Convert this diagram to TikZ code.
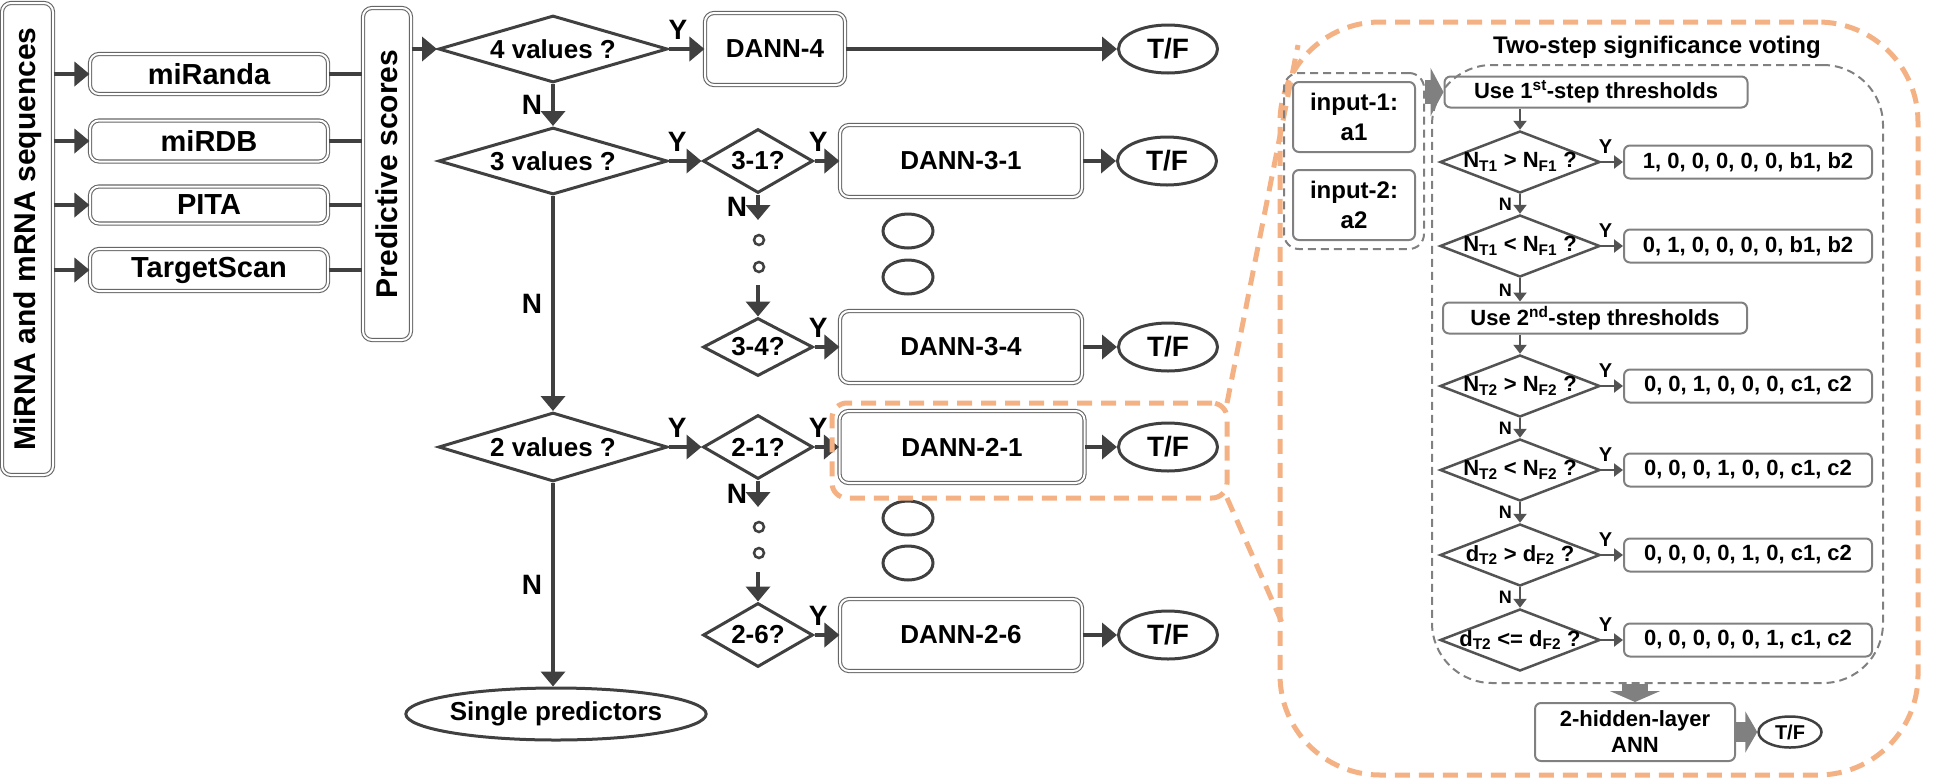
\documentclass[tikz,border=0pt]{standalone}
\usepackage{fontspec}
\setmainfont{Liberation Sans}
\usetikzlibrary{%
  arrows.meta,%
  shapes.geometric,%
  fit%
}
\definecolor{ink}{HTML}{404040}
\definecolor{panelgray}{HTML}{808080}
\definecolor{peach}{HTML}{F4B183}
\tikzset{>={Triangle[length=15pt,width=24pt]}}
\tikzset{%
  tool/.style = {draw=black!60, double, double distance=2pt, line width=1.1pt,
    rounded corners=9pt, inner sep=0pt, font=\fontsize{29}{32}\selectfont\bfseries},
  dann/.style = {tool, minimum width=242pt, minimum height=72pt,
    font=\fontsize{26}{28}\selectfont\bfseries},
  ask/.style = {diamond, draw=ink, line width=3pt, inner sep=0pt,
    font=\fontsize{26}{28}\selectfont\bfseries},
  askbig/.style = {ask, aspect=3.4, minimum width=229pt, minimum height=67pt},
  asksmall/.style = {ask, aspect=1.7, minimum width=110pt, minimum height=64pt},
  tf/.style = {ellipse, draw=ink, line width=3pt, inner sep=0pt,
    minimum width=99pt, minimum height=48pt, font=\fontsize{28}{30}\selectfont\bfseries},
  more/.style = {ellipse, draw=ink, line width=3pt, minimum width=50pt, minimum height=34pt},
  ring/.style = {circle, draw=ink, line width=2.5pt, minimum size=10pt, inner sep=0pt},
  flow/.style = {draw=ink, line width=4pt, ->},
  yn/.style = {inner sep=1pt, font=\fontsize{28}{30}\selectfont\bfseries},
  zoomed/.style = {draw=peach, line width=5pt, dash pattern=on 15pt off 9pt,
    rounded corners=15pt, outer sep=0pt, inner sep=0pt},
  group/.style = {draw=panelgray, line width=2pt, dash pattern=on 8pt off 5pt,
    rounded corners=15pt},
  pbox/.style = {draw=panelgray, line width=2pt, rounded corners=6pt, inner sep=0pt,
    font=\fontsize{22}{26}\selectfont\bfseries},
  pask/.style = {diamond, draw=ink!90, line width=2.5pt, inner sep=0pt, aspect=2.6,
    minimum width=160pt, minimum height=62pt, font=\fontsize{22}{24}\selectfont\bfseries},
  pres/.style = {pbox, minimum width=248pt, minimum height=33pt},
  pflow/.style = {draw=ink!90, line width=2.5pt, -{Triangle[length=9pt,width=13pt]}},
  pyn/.style = {inner sep=1pt, font=\fontsize{20}{22}\selectfont\bfseries},
  pn/.style = {inner sep=1pt, font=\fontsize{18}{20}\selectfont\bfseries},
  fat/.style = {draw=panelgray, line width=24pt, -{Triangle[length=13pt,width=48pt]}}
}

\begin{document}
\begin{tikzpicture}[x=1pt,y=-1pt]
  \useasboundingbox (0,0) rectangle (1946,780);

  % sequences, predictors and scores
  \node[tool, minimum width=51pt, minimum height=472pt,
    font=\fontsize{30}{32}\selectfont\bfseries] (seqs) at (27.5,239)
    {\rotatebox{90}{MiRNA and mRNA sequences}};
  \node[tool, minimum width=238pt, minimum height=40pt] (miranda) at (209,74) {miRanda};
  \node[tool, minimum width=238pt, minimum height=41pt] (mirdb) at (209,141) {miRDB};
  \node[tool, minimum width=238pt, minimum height=37pt] (pita) at (209,205) {PITA};
  \node[tool, minimum width=238pt, minimum height=42pt] (targetscan) at (209,270) {TargetScan};
  \node[tool, minimum width=48pt, minimum height=332pt,
    font=\fontsize{30}{32}\selectfont\bfseries] (scores) at (387,174)
    {\rotatebox{90}{Predictive scores}};
  \foreach \p in {miranda,mirdb,pita,targetscan}{
    \draw[flow] (seqs.east |- \p.west) -- (\p.west);
    \draw[flow,-] (\p.east) -- (scores.west |- \p.east);
  }

  % four values
  \node[askbig] (v4) at (553,49) {4 values ?};
  \node[dann, minimum width=140pt] (dann4) at (775,49) {DANN-4};
  \node[tf] (tf4) at (1168,49) {T/F};
  \draw[flow] (scores.east |- v4.west) -- (v4.west);
  \draw[flow] (v4.east) -- node[yn, pos=0.25, above=7pt] (y4) {Y} (dann4.west);
  \draw[flow] (dann4.east) -- (tf4.west);

  % three values
  \node[askbig] (v3) at (553,161) {3 values ?};
  \draw[flow] (v4.south) -- node[yn, left=8pt] (n4) {N} (v3.north);
  \node[asksmall] (q31) at (758,161) {3-1?};
  \node[dann] (dann31) at (961,161) {DANN-3-1};
  \node[tf] (tf31) at (1167,161) {T/F};
  \draw[flow] (v3.east) -- node[yn, pos=0.25, above=7pt] (y3) {Y} (q31.west);
  \draw[flow] (q31.east) -- node[yn, pos=0.15, above=7pt] (y31) {Y} (dann31.west);
  \draw[flow] (dann31.east) -- (tf31.west);
  \coordinate (gap31) at (758,220);
  \draw[flow] (q31.south) -- node[yn, left=8pt] (n31) {N} (gap31);
  \node[ring] (ring31) at (759,240) {};
  \node[ring] (ring32) at (759,267) {};
  \node[more] (more31) at (908,231) {};
  \node[more] (more32) at (908,277) {};
  \coordinate (gap34) at (758,285);
  \node[asksmall, minimum height=58pt] (q34) at (758,347) {3-4?};
  \node[dann] (dann34) at (961,347) {DANN-3-4};
  \node[tf] (tf34) at (1168,347) {T/F};
  \draw[flow] (gap34) -- (q34.north);
  \draw[flow] (q34.east) -- node[yn, pos=0.15, above=7pt] (y34) {Y} (dann34.west);
  \draw[flow] (dann34.east) -- (tf34.west);

  % two values
  \node[askbig, minimum height=69pt] (v2) at (553,447) {2 values ?};
  \draw[flow] (v3.south) -- node[yn, left=8pt] (n3) {N} (v2.north);
  \node[asksmall] (q21) at (758,447) {2-1?};
  \node[dann, minimum width=245pt] (dann21) at (962,447) {DANN-2-1};
  \node[tf] (tf21) at (1168,447) {T/F};
  \draw[flow] (v2.east) -- node[yn, pos=0.25, above=7pt] (y2) {Y} (q21.west);
  \draw[flow] (q21.east) -- node[yn, pos=0.15, above=7pt] (y21) {Y} (dann21.west);
  \draw[flow] (dann21.east) -- (tf21.west);
  \coordinate (gap21) at (758,507);
  \draw[flow] (q21.south) -- node[yn, left=8pt] (n21) {N} (gap21);
  \node[ring] (ring21) at (759,527) {};
  \node[ring] (ring22) at (759,553) {};
  \node[more] (more21) at (908,518) {};
  \node[more] (more22) at (908,563) {};
  \coordinate (gap26) at (758,572);
  \node[asksmall] (q26) at (758,635) {2-6?};
  \node[dann] (dann26) at (961,635) {DANN-2-6};
  \node[tf] (tf26) at (1168,635) {T/F};
  \draw[flow] (gap26) -- (q26.north);
  \draw[flow] (q26.east) -- node[yn, pos=0.15, above=7pt] (y26) {Y} (dann26.west);
  \draw[flow] (dann26.east) -- (tf26.west);

  \node[tf, minimum width=257pt, minimum height=52pt,
    font=\fontsize{26}{28}\selectfont\bfseries] (single) at (556,714) {Single predictors};
  \draw[flow] (v2.south) -- node[yn, left=8pt] (n2) {N} (v2.south |- single.north);

  % zoom on DANN-2-1
  \node[zoomed, minimum width=395pt, minimum height=95pt] (zoomsrc) at (1029.5,450.5) {};
  \node[zoomed, minimum width=638pt, minimum height=753pt, rounded corners=100pt]
    (zoombig) at (1599,398.5) {};
  \coordinate (ztop) at (1298,45);
  \coordinate (zbot) at (1283,625);
  \draw[zoomed] (zoomsrc.north east) -- (ztop);
  \draw[zoomed] (zoomsrc.south east) -- (zbot);

  % two-step significance voting
  \node[font=\fontsize{24}{26}\selectfont\bfseries] (title) at (1657,47)
    {Two-step significance voting};
  \node[pbox, minimum width=122pt, minimum height=70pt, align=center,
    font=\fontsize{24}{30}\selectfont\bfseries] (in1) at (1354,117) {input-1:\\a1};
  \node[pbox, minimum width=122pt, minimum height=70pt, align=center,
    font=\fontsize{24}{30}\selectfont\bfseries] (in2) at (1354,205) {input-2:\\a2};
  \node[group, fit=(in1)(in2), inner sep=8pt] (inputs) {};
  \node[group, minimum width=451pt, minimum height=618pt, rounded corners=60pt]
    (vote) at (1657.5,374) {};

  \node[pbox, minimum width=303pt, minimum height=31pt] (use1) at (1596,92)
    {Use 1\textsuperscript{st}-step thresholds};
  \draw[fat] (inputs.east |- use1.west) -- (use1.west);

  \node[pask] (c1) at (1520,162) {\makebox[0pt]{N\textsubscript{T1} > N\textsubscript{F1} ?}};
  \node[pres] (r1) at (1748,162) {1, 0, 0, 0, 0, 0, b1, b2};
  \node[pask] (c2) at (1520,246) {\makebox[0pt]{N\textsubscript{T1} < N\textsubscript{F1} ?}};
  \node[pres] (r2) at (1748,246) {0, 1, 0, 0, 0, 0, b1, b2};
  \node[pbox, minimum width=304pt, minimum height=31pt] (use2) at (1595,318)
    {Use 2\textsuperscript{nd}-step thresholds};
  \node[pask] (c3) at (1520,386) {\makebox[0pt]{N\textsubscript{T2} > N\textsubscript{F2} ?}};
  \node[pres] (r3) at (1748,386) {0, 0, 1, 0, 0, 0, c1, c2};
  \node[pask] (c4) at (1520,470) {\makebox[0pt]{N\textsubscript{T2} < N\textsubscript{F2} ?}};
  \node[pres] (r4) at (1748,470) {0, 0, 0, 1, 0, 0, c1, c2};
  \node[pask] (c5) at (1520,555) {\makebox[0pt]{d\textsubscript{T2} > d\textsubscript{F2} ?}};
  \node[pres] (r5) at (1748,555) {0, 0, 0, 0, 1, 0, c1, c2};
  \node[pask] (c6) at (1520,640) {\makebox[0pt]{d\textsubscript{T2} <= d\textsubscript{F2} ?}};
  \node[pres] (r6) at (1748,640) {0, 0, 0, 0, 0, 1, c1, c2};

  \draw[pflow] (c1.north |- use1.south) -- (c1.north);
  \draw[pflow] (c1.east) -- node[pyn, pos=0.2, above=6pt] (cy1) {Y} (r1.west);
  \draw[pflow] (c1.south) -- node[pn, left=6pt] (cn1) {N} (c2.north);
  \draw[pflow] (c2.east) -- node[pyn, pos=0.2, above=6pt] (cy2) {Y} (r2.west);
  \draw[pflow] (c2.south) -- node[pn, left=6pt] (cn2) {N} (c2.south |- use2.north);
  \draw[pflow] (c3.north |- use2.south) -- (c3.north);
  \draw[pflow] (c3.east) -- node[pyn, pos=0.2, above=6pt] (cy3) {Y} (r3.west);
  \draw[pflow] (c3.south) -- node[pn, left=6pt] (cn3) {N} (c4.north);
  \draw[pflow] (c4.east) -- node[pyn, pos=0.2, above=6pt] (cy4) {Y} (r4.west);
  \draw[pflow] (c4.south) -- node[pn, left=6pt] (cn4) {N} (c5.north);
  \draw[pflow] (c5.east) -- node[pyn, pos=0.2, above=6pt] (cy5) {Y} (r5.west);
  \draw[pflow] (c5.south) -- node[pn, left=6pt] (cn5) {N} (c6.north);
  \draw[pflow] (c6.east) -- node[pyn, pos=0.2, above=6pt] (cy6) {Y} (r6.west);

  \node[pbox, minimum width=200pt, minimum height=58pt, align=center] (ann) at (1635,732)
    {2-hidden-layer\\ANN};
  \node[tf, minimum width=63pt, minimum height=31pt, line width=2.5pt,
    font=\fontsize{20}{22}\selectfont\bfseries] (tfann) at (1790,732) {T/F};
  \draw[fat, line width=26pt, -{Triangle[length=11pt,width=50pt]}]
    (ann.north |- vote.south) -- (ann.north);
  \draw[fat, line width=20pt, -{Triangle[length=12pt,width=41pt]}]
    (ann.east) -- (tfann.west);
\end{tikzpicture}
\end{document}
